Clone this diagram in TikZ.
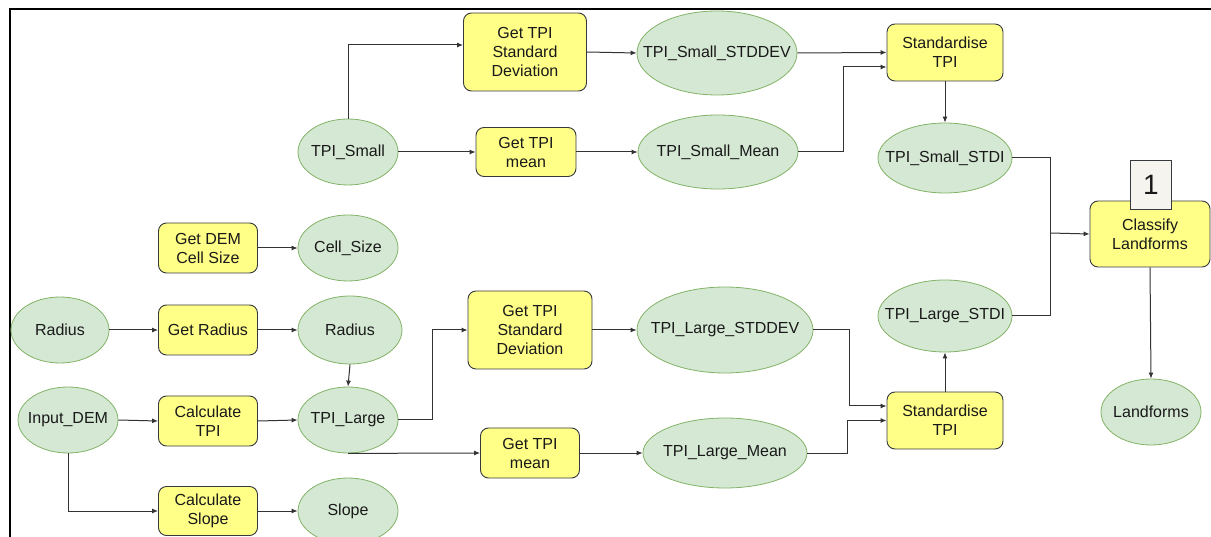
\documentclass[tikz,border=0pt]{standalone}
\usepackage{fontspec}
\setmainfont{Liberation Sans}
\usetikzlibrary{shapes.geometric,arrows.meta}
\definecolor{procfill}{HTML}{FFFF88}
\definecolor{procdraw}{HTML}{36393D}
\definecolor{datafill}{HTML}{D5E8D4}
\definecolor{datadraw}{HTML}{82B366}
\definecolor{linec}{HTML}{333333}
\definecolor{tagfill}{HTML}{F6F4EF}
\newcommand\dtxt[1]{\makebox[0pt]{#1}}
\begin{document}
\begin{tikzpicture}[x=1pt,y=-1pt,
  every node/.style={font=\fontsize{16}{19}\selectfont, text=black!90, align=center, inner sep=0pt},
  proc/.style={draw=procdraw, fill=procfill, rounded corners=8pt, line width=0.9pt},
  data/.style={ellipse, draw=datadraw, fill=datafill, line width=0.8pt},
  conn/.style={draw=linec, line width=1pt},
  arr/.style={conn, -{Latex[length=6pt,width=5pt]}}]
\useasboundingbox (0,0) rectangle (1211,537);
% frame
\draw[line width=2pt] (10,537) -- (10,9) -- (1211,9);

% top branch
\node[proc, minimum width=123pt, minimum height=78pt] (gsd1) at (525,52) {Get TPI\\Standard\\Deviation};
\node[data, minimum width=160pt, minimum height=84pt] (tsd) at (717,53) {\dtxt{TPI\_Small\_STDDEV}};
\node[proc, minimum width=100pt, minimum height=49pt] (gm1) at (526,152) {Get TPI\\mean};
\node[data, minimum width=160pt, minimum height=74pt] (tsm) at (718,152) {\dtxt{TPI\_Small\_Mean}};
\node[data, minimum width=100pt, minimum height=66pt] (ts) at (348,152) {\dtxt{TPI\_Small}};
\node[proc, minimum width=116pt, minimum height=57pt] (std1) at (945,52.5) {Standardise\\TPI};
\node[data, minimum width=134pt, minimum height=70pt] (tss) at (945,158) {\dtxt{TPI\_Small\_STDI}};

% classify
\node[proc, minimum width=120pt, minimum height=66pt] (cl) at (1150,234) {Classify\\Landforms};
\node[draw=procdraw, fill=tagfill, line width=0.9pt, minimum width=41pt, minimum height=49pt, font=\fontsize{28}{30}\selectfont] (tag) at (1151,185) {1};
\node[data, minimum width=100pt, minimum height=66pt] (lf) at (1151,412) {\dtxt{Landforms}};

% left part
\node[proc, minimum width=99pt, minimum height=50pt] (gdc) at (208,248) {Get DEM\\Cell Size};
\node[data, minimum width=100pt, minimum height=66pt] (cs) at (348,248) {\dtxt{Cell\_Size}};
\node[data, minimum width=98pt, minimum height=66pt] (r1) at (60,330) {\dtxt{Radius}};
\node[proc, minimum width=99pt, minimum height=50pt] (gr) at (208,330) {Get Radius};
\node[data, minimum width=104pt, minimum height=68pt] (r2) at (350,330) {\dtxt{Radius}};
\node[data, minimum width=100pt, minimum height=66pt] (in) at (68,420) {\dtxt{Input\_DEM}};
\node[proc, minimum width=99pt, minimum height=50pt] (ct) at (208,421) {Calculate\\TPI};
\node[data, minimum width=100pt, minimum height=66pt] (tl) at (348,420) {\dtxt{TPI\_Large}};
\node[proc, minimum width=99pt, minimum height=49pt] (csl) at (208,511) {Calculate\\Slope};
\node[data, minimum width=100pt, minimum height=66pt] (sl) at (348,511) {\dtxt{Slope}};

% lower branch
\node[proc, minimum width=124pt, minimum height=78pt] (gsd2) at (530,330) {Get TPI\\Standard\\Deviation};
\node[data, minimum width=176pt, minimum height=86pt] (tld) at (725,330) {\dtxt{TPI\_Large\_STDDEV}};
\node[proc, minimum width=99pt, minimum height=50pt] (gm2) at (530,453) {Get TPI\\mean};
\node[data, minimum width=164pt, minimum height=70pt] (tlm) at (725,453) {\dtxt{TPI\_Large\_Mean}};
\node[proc, minimum width=116pt, minimum height=57pt] (std2) at (945,420.5) {Standardise\\TPI};
\node[data, minimum width=134pt, minimum height=72pt] (tls) at (945,316) {\dtxt{TPI\_Large\_STDI}};

\coordinate (jn) at (1050,233);

% connectors top
\draw[arr] (ts.north) |- ([yshift=7pt]gsd1.west);
\draw[arr] (ts.east) -- (gm1.west);
\draw[arr] (gsd1.east) -- (tsd.west);
\draw[arr] (gm1.east) -- (tsm.west);
\draw[arr] (tsd.east) -- (std1.west);
\draw[arr] (tsm.east) -- ++(45,0) |- ([yshift=-14.5pt]std1.west);
\draw[arr] (std1.south) -- (tss.north);
\draw[conn] (tss.east) -| (jn);
\draw[conn] (tls.east) -| (jn);
\draw[arr] (jn) -- (cl.west);
\draw[arr] (cl.south) -- (lf.north);

% connectors left
\draw[arr] (gdc.east) -- (cs.west);
\draw[arr] (r1.east) -- (gr.west);
\draw[arr] (gr.east) -- (r2.west);
\draw[arr] (r2.south) -- (tl.north);
\draw[arr] (in.east) -- (ct.west);
\draw[arr] (ct.east) -- (tl.west);
\draw[arr] (in.south) |- (csl.west);
\draw[arr] (csl.east) -- (sl.west);

% connectors lower
\draw[arr] (tl.east) -- ++(34,0) |- (gsd2.west);
\draw[arr] (tl.south) -- (gm2.west);
\draw[arr] (gsd2.east) -- (tld.west);
\draw[arr] (gm2.east) -- (tlm.west);
\draw[arr] (tld.east) -- ++(36,0) |- ([yshift=14.5pt]std2.west);
\draw[arr] (tlm.east) -- ++(40,0) |- (std2.west);
\draw[arr] (std2.north) -- (tls.south);
\end{tikzpicture}
\end{document}
